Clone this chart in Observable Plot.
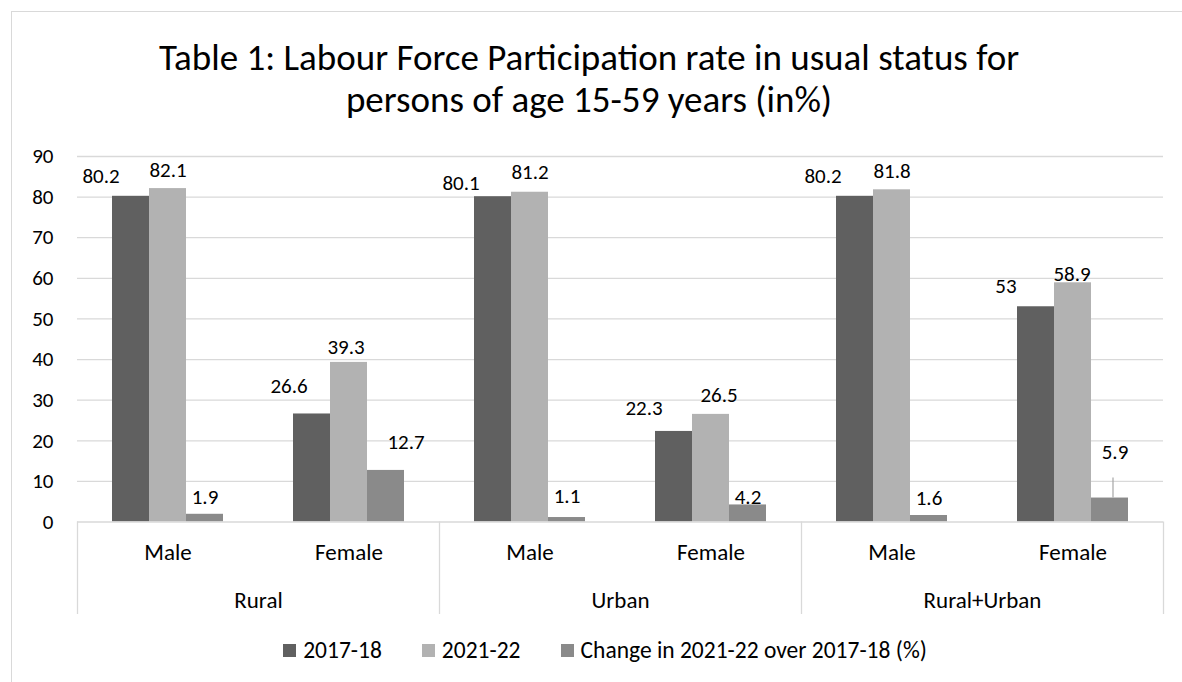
<!DOCTYPE html>
<html>
<head>
<meta charset="utf-8">
<script src="https://cdn.jsdelivr.net/npm/d3@7"></script>
<script src="https://cdn.jsdelivr.net/npm/@observablehq/plot@0.6"></script>
<style>
  body { margin: 0; background: #fff; font-family: Calibri, Carlito, Lato, sans-serif; color: #000; }
  #chart { position: relative; width: 1182px; height: 682px; overflow: hidden; background: #fff; }
  #frame { position: absolute; left: 11px; top: 11px; width: 1240px; height: 720px; border: 1.3px solid #d9d9d9; box-sizing: border-box; }
  #title { position: absolute; left: 0; top: 37px; width: 1178px; text-align: center; font-size: 37px; line-height: 42px; }
  #plot { position: absolute; left: 0; top: 130px; }
  #legend { position: absolute; left: 0; top: 636px; width: 1210px; display: flex; justify-content: center; align-items: center; gap: 40px; font-size: 23.5px; line-height: 28px; }
  #legend .item { display: flex; align-items: center; }
  #legend .swatch { width: 13px; height: 13px; margin-right: 7px; }
</style>
</head>
<body>
<div id="chart">
  <div id="frame"></div>
  <div id="title">Table 1: Labour Force Participation rate in usual status for<br>persons of age 15-59 years (in%)</div>
  <div id="plot"></div>
  <div id="legend"></div>
</div>
<script>
// Labour force participation rate (%), persons aged 15-59, usual status
const regions = ["Rural", "Urban", "Rural+Urban"];
const genders = ["Male", "Female"];
const seriesNames = ["2017-18", "2021-22", "Change in 2021-22 over 2017-18 (%)"];
// order: Rural Male, Rural Female, Urban Male, Urban Female, R+U Male, R+U Female
const lfpr2017 = [80.2, 26.6, 80.1, 22.3, 80.2, 53];
const lfpr2021 = [82.1, 39.3, 81.2, 26.5, 81.8, 58.9];
const changePct = [1.9, 12.7, 1.1, 4.2, 1.6, 5.9];
const yTicks = [0, 10, 20, 30, 40, 50, 60, 70, 80, 90];

const seriesColors = ["#606060", "#b2b2b2", "#8a8a8a"];
const gridColor = "#d9d9d9";
const fontFamily = "Calibri, Carlito, Lato, sans-serif";

// pixel nudges for the value labels, [dx, dy] from the bar top
const labelNudge = {
  "Rural|Male|0": [-30, -20], "Rural|Male|1": [0, -18], "Rural|Male|2": [0, -17],
  "Rural|Female|0": [-23, -28], "Rural|Female|1": [-3, -15], "Rural|Female|2": [20, -28],
  "Urban|Male|0": [-32, -13], "Urban|Male|1": [0, -20], "Urban|Male|2": [0, -21],
  "Urban|Female|0": [-30, -23], "Urban|Female|1": [8, -19], "Urban|Female|2": [0, -8],
  "Rural+Urban|Male|0": [-32, -20], "Rural+Urban|Male|1": [0, -19], "Rural+Urban|Male|2": [0, -17],
  "Rural+Urban|Female|0": [-30, -20], "Rural+Urban|Female|1": [-1, -9], "Rural+Urban|Female|2": [5, -46]
};
// labels lifted away from their bar get a leader line
const leaders = {"Rural+Urban|Female|2": {dx: 3, length: 20}};

const groupKeys = [];
const groups = [];
const rows = [];
regions.forEach((region, i) => genders.forEach((gender, j) => {
  const k = i * 2 + j;
  const key = `${region}|${gender}`;
  groupKeys.push(key);
  groups.push({key, region, gender});
  [lfpr2017, lfpr2021, changePct].forEach((values, s) => {
    rows.push({key, region, gender, s, series: seriesNames[s], value: values[k]});
  });
}));

const labelMarks = rows.map(d => {
  const [dx, dy] = labelNudge[`${d.key}|${d.s}`] || [0, -18];
  return Plot.text([d], {
    fx: "key", x: "series", y: "value", text: r => String(r.value),
    dx, dy, lineAnchor: "middle", textAnchor: "middle", fill: "#000", fontSize: 21
  });
});

const leaderMarks = rows.filter(d => leaders[`${d.key}|${d.s}`]).map(d => {
  const L = leaders[`${d.key}|${d.s}`];
  return Plot.ruleX([d], {
    fx: "key", x: "series", y1: "value", y2: "value",
    insetTop: 0, insetBottom: L.length, dx: L.dx, stroke: "#a6a6a6", strokeWidth: 1.2
  });
});

const chart = Plot.plot({
  width: 1182,
  height: 500,
  marginLeft: 74,
  marginRight: 17,
  marginTop: 26,
  marginBottom: 108.5,
  style: {fontFamily, fontSize: "21px", color: "#000", background: "transparent", overflow: "visible"},
  fx: {domain: groupKeys, padding: 0, axis: null},
  x: {domain: seriesNames, paddingInner: 0, paddingOuter: 0.89, axis: null},
  y: {domain: [0, 90]},
  color: {domain: seriesNames, range: seriesColors},
  marks: [
    Plot.ruleY(yTicks.filter(v => v > 0), {stroke: gridColor, strokeWidth: 1.3}),
    Plot.axisY({ticks: yTicks, tickSize: 0, tickPadding: 24, label: null, fontSize: 21, fill: "#000"}),
    Plot.barY(rows, {fx: "key", x: "series", y: "value", fill: "series"}),
    Plot.ruleY([0], {stroke: gridColor, strokeWidth: 1.3}),
    ...leaderMarks,
    ...labelMarks,
    // first level of the category axis: gender
    Plot.text(groups, {fx: "key", text: "gender", frameAnchor: "bottom", dy: 30.5, lineAnchor: "middle", fill: "#000", fontSize: 23}),
    // second level: region, centred on its two gender groups
    Plot.text(regions, {fx: r => `${r}|Female`, text: r => r, frameAnchor: "bottom-left", textAnchor: "middle", dy: 78.5, lineAnchor: "middle", fill: "#000", fontSize: 23})
  ]
});

// separators of the two-level category axis, placed from the fx scale
const fx = chart.scale("fx");
const y = chart.scale("y");
const y0 = y.apply(0);
const bounds = regions.map(r => fx.apply(`${r}|Male`));
bounds.push(fx.apply(groupKeys[groupKeys.length - 1]) + fx.bandwidth);
d3.select(chart).append("g")
  .attr("stroke", gridColor)
  .attr("stroke-width", 1.3)
  .selectAll("line")
  .data(bounds)
  .join("line")
  .attr("x1", d => Math.round(d) + 0.5)
  .attr("x2", d => Math.round(d) + 0.5)
  .attr("y1", y0)
  .attr("y2", y0 + 92.5);

document.getElementById("plot").appendChild(chart);

// legend
const legend = d3.select("#legend");
seriesNames.forEach((name, i) => {
  const item = legend.append("div").attr("class", "item");
  item.append("div").attr("class", "swatch").style("background", seriesColors[i]);
  item.append("span").text(name);
});
</script>
</body>
</html>
